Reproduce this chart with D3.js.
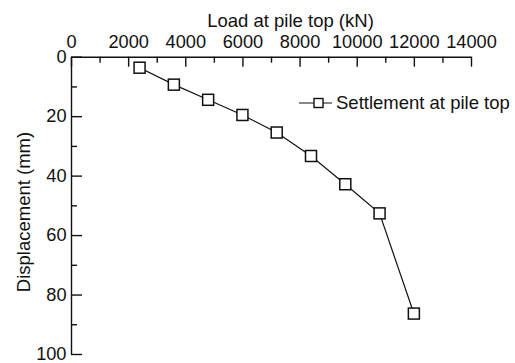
<!DOCTYPE html>
<html>
<head>
<meta charset="utf-8">
<script src="https://cdn.jsdelivr.net/npm/d3@7"></script>
<style>
  html, body { margin: 0; padding: 0; background: #fff; }
  svg { display: block; font-family: "Liberation Sans", Arial, sans-serif; }
</style>
</head>
<body>
<svg id="chart" width="515" height="363"></svg>
<script>
// Load test: pile-top load (kN) against settlement (mm)
const loads = [2400, 3600, 4800, 6000, 7200, 8400, 9600, 10800, 12000];
const settlement = [3.7, 9.4, 14.5, 19.6, 25.5, 33.4, 42.9, 52.7, 86.4];
const xMajorTicks = [0, 2000, 4000, 6000, 8000, 10000, 12000, 14000];
const xMinorTicks = [1000, 3000, 5000, 7000, 9000, 11000, 13000];
const yMajorTicks = [0, 20, 40, 60, 80, 100];
const yMinorTicks = [10, 30, 50, 70, 90];
const seriesName = "Settlement at pile top";
const xTitle = "Load at pile top (kN)";
const yTitle = "Displacement (mm)";

const svg = d3.select("#chart");
const plotLeft = 71, plotRight = 471, plotTop = 56.7, plotBottom = 354;
const tickFont = 18.2;
const textFont = 18.5;
const ink = "#111";

const x = d3.scaleLinear().domain([0, 14000]).range([plotLeft, plotRight]);
const y = d3.scaleLinear().domain([0, 100]).range([plotTop, plotBottom]);

// Top x axis, ticks pointing into the plot
const xAxisMajor = d3.axisTop(x).tickValues(xMajorTicks).tickSizeInner(-10).tickSizeOuter(0).tickPadding(8.7).tickFormat(d3.format("d"));
const gx = svg.append("g").attr("transform", `translate(0,${plotTop})`).call(xAxisMajor);
gx.append("g").call(d3.axisTop(x).tickValues(xMinorTicks).tickSizeInner(-6).tickSizeOuter(0).tickFormat(""))
  .select(".domain").remove();

// Left y axis, ticks pointing into the plot
const yAxisMajor = d3.axisLeft(y).tickValues(yMajorTicks).tickSizeInner(-11).tickSizeOuter(0).tickPadding(4.5);
const gy = svg.append("g").attr("transform", `translate(${plotLeft},0)`).call(yAxisMajor);
gy.append("g").call(d3.axisLeft(y).tickValues(yMinorTicks).tickSizeInner(-6).tickSizeOuter(0).tickFormat(""))
  .select(".domain").remove();

svg.selectAll(".domain, .tick line").attr("stroke", ink).attr("stroke-width", 1.4);
svg.selectAll(".tick text").attr("fill", ink).attr("font-size", tickFont).attr("font-family", "Liberation Sans, Arial, sans-serif");
gx.selectAll(".tick text").attr("dy", "0em");

// Axis titles
svg.append("text").attr("x", 290.5).attr("y", 27).attr("text-anchor", "middle")
  .attr("font-size", textFont).attr("fill", ink).text(xTitle);
svg.append("text").attr("transform", "translate(30,212) rotate(-90)").attr("text-anchor", "middle")
  .attr("font-size", textFont).attr("fill", ink).text(yTitle);

// Series line and square markers
const pts = loads.map((d, i) => [d, settlement[i]]);
const ms = 11;
svg.append("path").datum(pts)
  .attr("fill", "none").attr("stroke", ink).attr("stroke-width", 1.2)
  .attr("d", d3.line().x(d => x(d[0])).y(d => y(d[1])));
svg.selectAll("rect.marker").data(pts).join("rect").attr("class", "marker")
  .attr("x", d => x(d[0]) - ms / 2).attr("y", d => y(d[1]) - ms / 2)
  .attr("width", ms).attr("height", ms)
  .attr("fill", "#fff").attr("stroke", ink).attr("stroke-width", 1.5);

// Legend
const lg = svg.append("g").attr("transform", "translate(0,103)");
lg.append("line").attr("x1", 299).attr("x2", 332).attr("y1", 0).attr("y2", 0)
  .attr("stroke", ink).attr("stroke-width", 1.2);
lg.append("rect").attr("x", 318.5 - 4.5).attr("y", -4.5).attr("width", 9).attr("height", 9)
  .attr("fill", "#fff").attr("stroke", ink).attr("stroke-width", 1.4);
lg.append("text").attr("x", 336).attr("y", 6).attr("font-size", textFont).attr("fill", ink).text(seriesName);
</script>
</body>
</html>
